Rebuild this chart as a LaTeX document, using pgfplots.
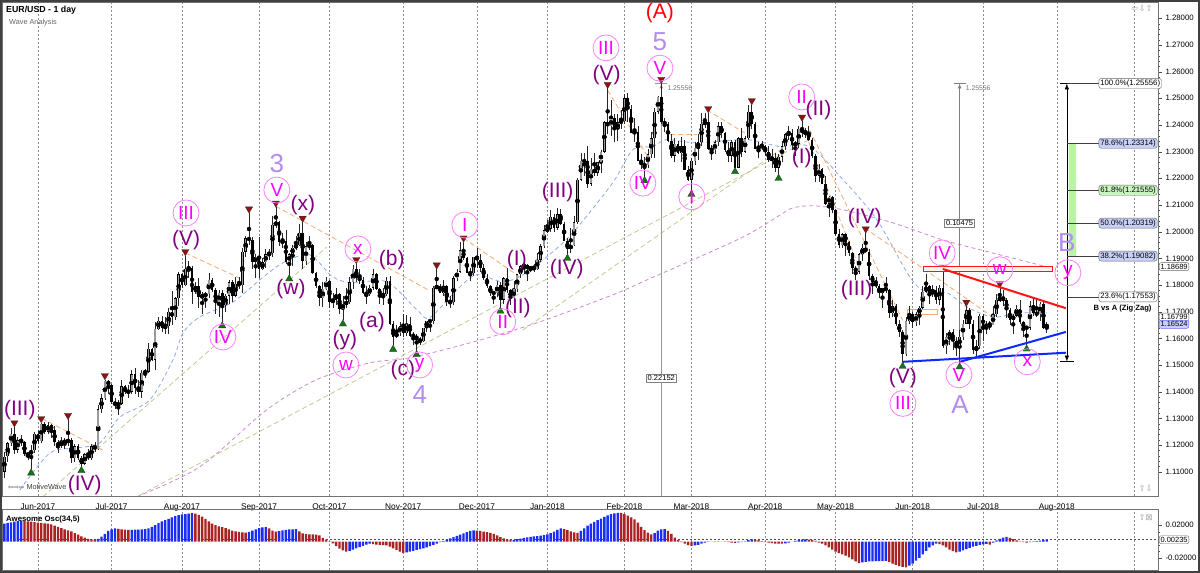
\documentclass[border=0pt]{standalone}
\usepackage{pgfplots}
\pgfplotsset{compat=1.18}
\usepackage{pgfplotstable}
\usepackage{fontspec}
\setmainfont{Liberation Sans}
\newfontfamily\dejavu{DejaVu Sans}
\usetikzlibrary{arrows.meta}

\definecolor{wpurple}{RGB}{128,0,128}
\definecolor{wmag}{RGB}{255,0,255}
\definecolor{wlav}{RGB}{180,140,240}
\definecolor{mkred}{RGB}{150,15,15}
\definecolor{mkgreen}{RGB}{15,120,15}
\definecolor{tlred}{RGB}{255,20,20}
\definecolor{tlblue}{RGB}{15,40,255}
\definecolor{mablue}{RGB}{140,170,235}
\definecolor{mapurple}{RGB}{205,140,210}
\definecolor{olive2}{RGB}{200,200,150}
\definecolor{orange2}{RGB}{248,170,115}
\definecolor{aoblue}{RGB}{25,45,245}
\definecolor{aored}{RGB}{170,35,35}
\definecolor{fibblue}{RGB}{200,208,248}
\definecolor{fibgreen}{RGB}{200,245,190}
\definecolor{fibbar}{RGB}{185,245,165}

\pgfplotstableread{
x o h l c
-10 1.1100 1.1173 1.1077 1.1157
-9 1.1157 1.1212 1.1135 1.1207
-8 1.1207 1.1262 1.1195 1.1242
-7 1.1242 1.1268 1.1165 1.1183
-6 1.1183 1.1229 1.1170 1.1218
-5 1.1218 1.1237 1.1195 1.1210
-4 1.1210 1.1215 1.1160 1.1165
-3 1.1165 1.1175 1.1145 1.1165
-2 1.1165 1.1200 1.1110 1.1180
-1 1.1180 1.1250 1.1170 1.1243
0 1.1243 1.1257 1.1205 1.1215
1 1.1215 1.1284 1.1208 1.1280
2 1.1280 1.1285 1.1240 1.1250
3 1.1250 1.1285 1.1240 1.1275
4 1.1275 1.1280 1.1225 1.1255
5 1.1255 1.1270 1.1195 1.1210
6 1.1210 1.1220 1.1170 1.1195
7 1.1195 1.1230 1.1190 1.1215
8 1.1215 1.1225 1.1185 1.1210
9 1.1210 1.1296 1.1195 1.1220
10 1.1220 1.1225 1.1131 1.1150
11 1.1150 1.1205 1.1135 1.1195
12 1.1195 1.1205 1.1145 1.1150
13 1.1150 1.1160 1.1119 1.1130
14 1.1130 1.1170 1.1125 1.1165
15 1.1165 1.1185 1.1145 1.1150
16 1.1150 1.1205 1.1145 1.1195
17 1.1195 1.1210 1.1175 1.1185
18 1.1185 1.1350 1.1180 1.1335
19 1.1335 1.1390 1.1320 1.1375
20 1.1375 1.1445 1.1370 1.1440
21 1.1440 1.1445 1.1390 1.1425
22 1.1425 1.1430 1.1355 1.1360
23 1.1360 1.1375 1.1335 1.1350
24 1.1350 1.1370 1.1312 1.1355
25 1.1355 1.1445 1.1350 1.1420
26 1.1420 1.1425 1.1390 1.1400
27 1.1400 1.1425 1.1375 1.1400
28 1.1400 1.1480 1.1390 1.1465
29 1.1465 1.1490 1.1390 1.1415
30 1.1415 1.1445 1.1380 1.1400
31 1.1400 1.1480 1.1375 1.1470
32 1.1470 1.1485 1.1450 1.1475
33 1.1475 1.1583 1.1470 1.1560
34 1.1560 1.1565 1.1515 1.1520
35 1.1520 1.1660 1.1480 1.1635
36 1.1635 1.1680 1.1630 1.1665
37 1.1665 1.1685 1.1625 1.1640
38 1.1640 1.1680 1.1615 1.1645
39 1.1645 1.1715 1.1615 1.1700
40 1.1700 1.1777 1.1650 1.1680
41 1.1680 1.1755 1.1670 1.1750
42 1.1750 1.1848 1.1720 1.1840
43 1.1840 1.1845 1.1790 1.1800
44 1.1800 1.1910 1.1795 1.1860
45 1.1860 1.1890 1.1825 1.1865
46 1.1865 1.1870 1.1730 1.1775
47 1.1775 1.1810 1.1765 1.1795
48 1.1795 1.1825 1.1715 1.1755
49 1.1755 1.1775 1.1690 1.1760
50 1.1760 1.1775 1.1715 1.1765
51 1.1765 1.1845 1.1750 1.1820
52 1.1820 1.1825 1.1775 1.1780
53 1.1780 1.1790 1.1690 1.1735
54 1.1735 1.1780 1.1680 1.1770
55 1.1770 1.1780 1.1662 1.1725
56 1.1725 1.1765 1.1700 1.1760
57 1.1760 1.1820 1.1730 1.1810
58 1.1810 1.1820 1.1735 1.1760
59 1.1760 1.1830 1.1755 1.1805
60 1.1805 1.1830 1.1785 1.1800
61 1.1800 1.1940 1.1770 1.1925
62 1.1925 1.1985 1.1905 1.1975
63 1.1975 1.2070 1.1950 1.1970
64 1.1970 1.1980 1.1860 1.1885
65 1.1885 1.1915 1.1825 1.1905
66 1.1905 1.1980 1.1825 1.1860
67 1.1860 1.1900 1.1855 1.1885
68 1.1885 1.1935 1.1865 1.1915
69 1.1915 1.1935 1.1895 1.1920
70 1.1920 1.2060 1.1905 1.2025
71 1.2025 1.2092 1.2015 1.2035
72 1.2035 1.2040 1.1945 1.1960
73 1.1960 1.1995 1.1940 1.1965
74 1.1965 1.2005 1.1880 1.1885
75 1.1885 1.1920 1.1838 1.1915
76 1.1915 1.1950 1.1870 1.1940
77 1.1940 1.1985 1.1930 1.1950
78 1.1950 1.2030 1.1945 1.1995
79 1.1995 1.2035 1.1860 1.1890
80 1.1890 1.1960 1.1875 1.1945
81 1.1945 1.1985 1.1930 1.1950
82 1.1950 1.1955 1.1840 1.1845
83 1.1845 1.1850 1.1790 1.1795
84 1.1795 1.1800 1.1720 1.1750
85 1.1750 1.1810 1.1717 1.1785
86 1.1785 1.1830 1.1780 1.1815
87 1.1815 1.1820 1.1715 1.1735
88 1.1735 1.1770 1.1715 1.1745
89 1.1745 1.1790 1.1725 1.1765
90 1.1765 1.1770 1.1690 1.1710
91 1.1710 1.1760 1.1669 1.1730
92 1.1730 1.1790 1.1715 1.1735
93 1.1735 1.1830 1.1730 1.1810
94 1.1810 1.1875 1.1785 1.1860
95 1.1860 1.1880 1.1810 1.1825
96 1.1825 1.1860 1.1805 1.1820
97 1.1820 1.1830 1.1765 1.1770
98 1.1770 1.1795 1.1730 1.1765
99 1.1765 1.1800 1.1760 1.1790
100 1.1790 1.1860 1.1780 1.1840
101 1.1840 1.1845 1.1780 1.1785
102 1.1785 1.1790 1.1730 1.1760
103 1.1760 1.1790 1.1725 1.1765
104 1.1765 1.1830 1.1760 1.1815
105 1.1815 1.1835 1.1650 1.1655
106 1.1655 1.1665 1.1574 1.1605
107 1.1605 1.1650 1.1600 1.1620
108 1.1620 1.1660 1.1610 1.1645
109 1.1645 1.1690 1.1605 1.1620
110 1.1620 1.1688 1.1610 1.1655
111 1.1655 1.1680 1.1605 1.1610
112 1.1610 1.1625 1.1575 1.1610
113 1.1610 1.1615 1.1554 1.1595
114 1.1595 1.1605 1.1575 1.1590
115 1.1590 1.1640 1.1585 1.1640
116 1.1640 1.1665 1.1625 1.1665
117 1.1665 1.1670 1.1625 1.1665
118 1.1665 1.1795 1.1655 1.1790
119 1.1790 1.1860 1.1785 1.1795
120 1.1795 1.1805 1.1770 1.1770
121 1.1770 1.1820 1.1760 1.1795
122 1.1795 1.1800 1.1720 1.1735
123 1.1735 1.1760 1.1715 1.1735
124 1.1735 1.1835 1.1725 1.1825
125 1.1825 1.1860 1.1815 1.1850
126 1.1850 1.1960 1.1845 1.1930
127 1.1930 1.1961 1.1895 1.1900
128 1.1900 1.1905 1.1845 1.1845
129 1.1845 1.1865 1.1815 1.1845
130 1.1845 1.1905 1.1835 1.1905
131 1.1905 1.1940 1.1865 1.1895
132 1.1895 1.1915 1.1850 1.1865
133 1.1865 1.1880 1.1820 1.1825
134 1.1825 1.1840 1.1790 1.1795
135 1.1795 1.1800 1.1760 1.1770
136 1.1770 1.1775 1.1730 1.1770
137 1.1770 1.1815 1.1755 1.1800
138 1.1800 1.1810 1.1717 1.1745
139 1.1745 1.1830 1.1730 1.1825
140 1.1825 1.1862 1.1770 1.1780
141 1.1780 1.1785 1.1725 1.1750
142 1.1750 1.1815 1.1745 1.1785
143 1.1785 1.1840 1.1775 1.1840
144 1.1840 1.1875 1.1825 1.1870
145 1.1870 1.1890 1.1840 1.1875
146 1.1875 1.1880 1.1815 1.1860
147 1.1860 1.1870 1.1850 1.1865
148 1.1865 1.1880 1.1850 1.1860
149 1.1860 1.1920 1.1855 1.1895
150 1.1895 1.1955 1.1885 1.1945
151 1.1945 1.2025 1.1940 1.2005
152 1.2005 1.2045 1.1995 1.2010
153 1.2010 1.2080 1.2000 1.2055
154 1.2055 1.2065 1.2000 1.2015
155 1.2015 1.2088 1.2005 1.2065
156 1.2065 1.2085 1.2025 1.2030
157 1.2030 1.2035 1.1965 1.1965
158 1.1965 1.1975 1.1915 1.1935
159 1.1935 1.2015 1.1920 1.1950
160 1.1950 1.2060 1.1945 1.2035
161 1.2035 1.2200 1.2030 1.2195
162 1.2195 1.2296 1.2190 1.2265
163 1.2265 1.2295 1.2210 1.2265
164 1.2265 1.2320 1.2165 1.2180
165 1.2180 1.2275 1.2170 1.2235
166 1.2235 1.2295 1.2210 1.2220
167 1.2220 1.2260 1.2210 1.2260
168 1.2260 1.2305 1.2220 1.2300
169 1.2300 1.2415 1.2295 1.2410
170 1.2410 1.2537 1.2365 1.2395
171 1.2395 1.2495 1.2360 1.2425
172 1.2425 1.2440 1.2335 1.2385
173 1.2385 1.2440 1.2340 1.2410
174 1.2410 1.2455 1.2385 1.2415
175 1.2415 1.2515 1.2405 1.2500
176 1.2500 1.2520 1.2410 1.2460
177 1.2460 1.2475 1.2370 1.2370
178 1.2370 1.2425 1.2335 1.2375
179 1.2375 1.2395 1.2265 1.2265
180 1.2265 1.2290 1.2235 1.2250
181 1.2250 1.2280 1.2206 1.2250
182 1.2250 1.2310 1.2240 1.2290
183 1.2290 1.2375 1.2275 1.2350
184 1.2350 1.2465 1.2275 1.2450
185 1.2450 1.2510 1.2440 1.2505
186 1.2505 1.2556 1.2405 1.2410
187 1.2410 1.2425 1.2375 1.2405
188 1.2405 1.2410 1.2335 1.2340
189 1.2340 1.2365 1.2275 1.2285
190 1.2285 1.2350 1.2260 1.2330
191 1.2330 1.2340 1.2290 1.2295
192 1.2295 1.2355 1.2260 1.2320
193 1.2320 1.2345 1.2230 1.2230
194 1.2230 1.2245 1.2190 1.2195
195 1.2195 1.2275 1.2155 1.2265
196 1.2265 1.2335 1.2250 1.2315
197 1.2315 1.2365 1.2270 1.2335
198 1.2335 1.2445 1.2320 1.2405
199 1.2405 1.2445 1.2390 1.2410
200 1.2410 1.2446 1.2305 1.2310
201 1.2310 1.2325 1.2270 1.2305
202 1.2305 1.2345 1.2290 1.2335
203 1.2335 1.2410 1.2320 1.2395
204 1.2395 1.2410 1.2350 1.2370
205 1.2370 1.2375 1.2300 1.2305
206 1.2305 1.2335 1.2260 1.2285
207 1.2285 1.2345 1.2260 1.2335
208 1.2335 1.2345 1.2240 1.2240
209 1.2240 1.2355 1.2240 1.2350
210 1.2350 1.2390 1.2280 1.2300
211 1.2300 1.2360 1.2295 1.2350
212 1.2350 1.2475 1.2345 1.2450
213 1.2450 1.2476 1.2385 1.2405
214 1.2405 1.2410 1.2310 1.2310
215 1.2310 1.2335 1.2275 1.2320
216 1.2320 1.2340 1.2305 1.2320
217 1.2320 1.2325 1.2285 1.2300
218 1.2300 1.2320 1.2260 1.2270
219 1.2270 1.2310 1.2240 1.2275
220 1.2275 1.2295 1.2225 1.2240
221 1.2240 1.2290 1.2215 1.2280
222 1.2280 1.2340 1.2260 1.2320
223 1.2320 1.2370 1.2305 1.2365
224 1.2365 1.2395 1.2345 1.2370
225 1.2370 1.2385 1.2305 1.2325
226 1.2325 1.2340 1.2285 1.2330
227 1.2330 1.2395 1.2315 1.2385
228 1.2385 1.2414 1.2355 1.2370
229 1.2370 1.2390 1.2350 1.2375
230 1.2375 1.2395 1.2340 1.2345
231 1.2345 1.2350 1.2275 1.2285
232 1.2285 1.2290 1.2185 1.2210
233 1.2210 1.2255 1.2185 1.2235
234 1.2235 1.2240 1.2180 1.2180
235 1.2180 1.2210 1.2100 1.2105
236 1.2105 1.2135 1.2055 1.2130
237 1.2130 1.2135 1.2070 1.2080
238 1.2080 1.2085 1.1985 1.1990
239 1.1990 1.2010 1.1940 1.1950
240 1.1950 1.1995 1.1940 1.1990
241 1.1990 1.1995 1.1910 1.1960
242 1.1960 1.1965 1.1910 1.1920
243 1.1920 1.1925 1.1840 1.1865
244 1.1865 1.1870 1.1820 1.1850
245 1.1850 1.1920 1.1840 1.1915
246 1.1915 1.1955 1.1890 1.1940
247 1.1940 1.1995 1.1920 1.1925
248 1.1925 1.1935 1.1820 1.1835
249 1.1835 1.1840 1.1765 1.1810
250 1.1810 1.1830 1.1790 1.1795
251 1.1795 1.1805 1.1750 1.1770
252 1.1770 1.1790 1.1715 1.1790
253 1.1790 1.1830 1.1770 1.1780
254 1.1780 1.1785 1.1675 1.1695
255 1.1695 1.1745 1.1680 1.1720
256 1.1720 1.1730 1.1645 1.1655
257 1.1655 1.1670 1.1605 1.1625
258 1.1625 1.1630 1.1510 1.1540
259 1.1540 1.1680 1.1535 1.1665
260 1.1665 1.1720 1.1655 1.1690
261 1.1690 1.1700 1.1640 1.1660
262 1.1660 1.1700 1.1645 1.1690
263 1.1690 1.1720 1.1650 1.1715
264 1.1715 1.1795 1.1710 1.1775
265 1.1775 1.1840 1.1770 1.1795
266 1.1795 1.1800 1.1730 1.1765
267 1.1765 1.1800 1.1755 1.1780
268 1.1780 1.1795 1.1730 1.1745
269 1.1745 1.1800 1.1725 1.1790
270 1.1790 1.1852 1.1565 1.1570
271 1.1570 1.1620 1.1540 1.1605
272 1.1605 1.1630 1.1575 1.1625
273 1.1625 1.1635 1.1555 1.1590
274 1.1590 1.1605 1.1535 1.1570
275 1.1570 1.1630 1.1508 1.1605
276 1.1605 1.1670 1.1595 1.1655
277 1.1655 1.1720 1.1655 1.1705
278 1.1705 1.1715 1.1635 1.1655
279 1.1655 1.1670 1.1540 1.1555
280 1.1555 1.1595 1.1525 1.1570
281 1.1570 1.1690 1.1560 1.1685
282 1.1685 1.1690 1.1590 1.1640
283 1.1640 1.1665 1.1615 1.1655
284 1.1655 1.1665 1.1630 1.1650
285 1.1650 1.1720 1.1650 1.1690
286 1.1690 1.1765 1.1680 1.1745
287 1.1745 1.1790 1.1735 1.1750
288 1.1750 1.1780 1.1720 1.1745
289 1.1745 1.1750 1.1675 1.1705
290 1.1705 1.1715 1.1650 1.1670
291 1.1670 1.1690 1.1615 1.1685
292 1.1685 1.1725 1.1680 1.1710
293 1.1710 1.1745 1.1655 1.1660
294 1.1660 1.1665 1.1605 1.1640
295 1.1640 1.1645 1.1575 1.1640
296 1.1640 1.1740 1.1630 1.1720
297 1.1720 1.1750 1.1685 1.1695
298 1.1695 1.1745 1.1680 1.1690
299 1.1690 1.1735 1.1665 1.1730
300 1.1730 1.1735 1.1635 1.1640
301 1.1640 1.1660 1.1620 1.1652
}\ohlc

\pgfplotstableread{
x v c
-10 22.0 1
-9 22.8 1
-8 23.5 1
-7 24.2 1
-6 24.8 1
-5 25.2 1
-4 25.0 0
-3 24.7 0
-2 24.2 0
-1 23.8 0
0 23.2 0
1 22.8 0
2 22.3 0
3 22.0 0
4 21.0 0
5 19.5 0
6 18.0 0
7 16.5 0
8 15.0 0
9 13.8 0
10 12.4 0
11 10.5 0
12 8.5 0
13 6.5 0
14 4.8 0
15 3.4 0
16 2.8 0
17 2.4 0
18 3.5 1
19 6.0 1
20 9.5 1
21 13.0 1
22 15.0 1
23 16.0 1
24 15.6 0
25 15.0 0
26 14.5 0
27 14.2 0
28 14.3 1
29 14.5 1
30 14.6 1
31 14.8 1
32 15.2 1
33 16.0 1
34 18.0 1
35 20.0 1
36 22.5 1
37 24.5 1
38 26.0 1
39 27.5 1
40 29.5 1
41 31.0 1
42 32.2 1
43 33.0 1
44 33.5 1
45 34.0 1
46 34.5 1
47 34.0 0
48 32.5 0
49 30.5 0
50 27.5 0
51 24.5 0
52 22.0 0
53 20.0 0
54 18.5 0
55 17.5 0
56 16.5 0
57 15.0 0
58 13.5 0
59 12.5 0
60 11.8 0
61 11.2 0
62 11.0 0
63 12.0 1
64 13.5 1
65 15.0 1
66 16.5 1
67 17.3 1
68 17.6 1
69 16.0 0
70 13.5 0
71 12.2 0
72 12.8 1
73 13.6 1
74 14.3 1
75 14.8 1
76 15.0 1
77 15.1 1
78 12.5 0
79 10.0 0
80 9.2 0
81 9.0 0
82 8.8 0
83 8.6 0
84 7.5 0
85 4.5 0
86 2.5 0
87 0.5 0
88 -2.0 0
89 -5.5 0
90 -8.5 0
91 -10.5 0
92 -12.0 0
93 -11.0 1
94 -9.5 1
95 -8.0 1
96 -6.5 1
97 -5.0 1
98 -3.5 1
99 -2.5 1
100 -3.0 0
101 -3.5 0
102 -4.0 0
103 -4.2 0
104 -4.6 0
105 -6.0 0
106 -8.0 0
107 -10.0 0
108 -12.0 0
109 -13.6 0
110 -13.0 1
111 -12.0 1
112 -11.0 1
113 -10.0 1
114 -9.0 1
115 -8.0 1
116 -7.0 1
117 -5.5 1
118 -4.0 1
119 -2.5 1
120 -0.5 1
121 0.8 1
122 2.5 1
123 4.0 1
124 5.5 1
125 7.0 1
126 8.5 1
127 10.0 1
128 11.5 1
129 13.0 1
130 13.7 1
131 13.5 0
132 13.0 0
133 12.3 0
134 11.5 0
135 10.8 0
136 9.5 0
137 7.5 0
138 5.5 0
139 4.0 0
140 2.8 0
141 1.9 0
142 2.3 1
143 3.0 1
144 3.8 1
145 4.6 1
146 5.2 1
147 5.8 1
148 6.3 1
149 6.8 1
150 7.3 1
151 7.8 1
152 8.8 1
153 10.5 1
154 12.3 1
155 14.2 1
156 16.0 1
157 15.2 0
158 14.0 0
159 12.5 0
160 11.2 0
161 10.8 0
162 13.0 1
163 16.0 1
164 19.5 1
165 22.0 1
166 24.0 1
167 26.2 1
168 28.0 1
169 30.0 1
170 32.0 1
171 33.5 1
172 34.3 1
173 35.0 1
174 34.5 0
175 33.5 0
176 31.5 0
177 29.5 0
178 27.0 0
179 23.0 0
180 18.0 0
181 14.0 0
182 11.0 0
183 9.0 0
184 10.5 1
185 13.5 1
186 15.0 1
187 15.3 1
188 13.0 0
189 9.5 0
190 5.0 0
191 2.0 0
192 -0.5 0
193 -2.5 0
194 -4.2 0
195 -5.2 0
196 -4.6 1
197 -3.8 1
198 -2.5 1
199 -1.0 1
200 -0.3 1
201 0.0 1
202 0.3 1
203 0.4 1
204 0.2 0
205 -0.2 0
206 -0.6 0
207 -1.0 0
208 -1.3 0
209 -0.8 1
210 -0.2 1
211 0.5 1
212 1.8 1
213 2.8 1
214 2.4 0
215 1.8 0
216 0.8 0
217 -0.4 0
218 -1.2 0
219 -1.8 0
220 -2.2 0
221 -2.4 0
222 -2.5 0
223 -2.0 1
224 -1.0 1
225 0.0 1
226 1.0 1
227 1.8 1
228 2.5 1
229 2.8 1
230 2.6 0
231 2.2 0
232 1.0 0
233 -1.0 0
234 -2.5 0
235 -4.5 0
236 -7.0 0
237 -9.5 0
238 -12.0 0
239 -14.0 0
240 -15.5 0
241 -17.0 0
242 -19.0 0
243 -21.5 0
244 -24.0 0
245 -26.0 0
246 -25.0 1
247 -24.4 1
248 -24.0 1
249 -23.8 1
250 -23.6 1
251 -23.5 1
252 -23.4 1
253 -23.3 1
254 -24.5 0
255 -26.5 0
256 -28.0 0
257 -29.5 0
258 -30.5 0
259 -31.0 0
260 -29.0 1
261 -26.5 1
262 -23.0 1
263 -19.5 1
264 -15.5 1
265 -11.0 1
266 -7.0 1
267 -4.5 1
268 -2.5 1
269 -3.0 0
270 -4.5 0
271 -7.0 0
272 -9.5 0
273 -11.5 0
274 -12.8 0
275 -12.0 1
276 -10.5 1
277 -9.0 1
278 -7.5 1
279 -6.0 1
280 -5.0 1
281 -4.0 1
282 -3.2 1
283 -2.6 1
284 -3.5 0
285 -1.0 1
286 1.5 1
287 3.5 1
288 5.0 1
289 5.9 1
290 4.5 0
291 3.0 0
292 1.5 0
293 0.5 0
294 -0.5 0
295 -1.0 0
296 -0.5 1
297 0.3 1
298 0.8 1
299 1.3 1
300 2.0 1
301 2.35 1
}\ao

\pgfplotstableread{
x y
-5.4 1.1031
3.6 1.1170
11.6 1.1189
18.5 1.1208
24.5 1.1305
33.4 1.1369
40.3 1.1519
43.3 1.1620
48.3 1.1680
58.2 1.1736
66.2 1.1819
73.1 1.1883
81.1 1.1913
88.0 1.1830
94.0 1.1808
104.1 1.1812
113.1 1.1707
116.9 1.1677
125.0 1.1782
131.0 1.1838
138.7 1.1812
144.7 1.1838
151.9 1.1906
159.6 1.1996
171.5 1.2183
177.5 1.2307
183.5 1.2319
187.6 1.2345
196.6 1.2333
211.5 1.2345
221.4 1.2319
230.3 1.2319
240.2 1.2195
250.3 1.2045
260.1 1.1831
265.2 1.1771
271.2 1.1771
277.1 1.1718
284.9 1.1680
293.0 1.1695
301.0 1.1695
}\maA

\pgfplotstableread{
x y
29.5 1.1006
48.3 1.1118
68.3 1.1332
83.2 1.1445
99.0 1.1508
111.0 1.1527
128.9 1.1583
148.9 1.1658
171.5 1.1763
181.7 1.1819
196.6 1.1901
211.5 1.1987
221.4 1.2062
225.2 1.2089
231.2 1.2097
240.2 1.2082
255.1 1.2033
270.0 1.1969
284.9 1.1920
301.0 1.1868
}\maB

\tikzset{
 wp/.style={text=wpurple, font=\fontsize{21}{21}\selectfont, inner sep=0pt},
 wc/.style={circle, draw=wmag!50, line width=0.8pt, text=wmag, font=\fontsize{19}{19}\selectfont, minimum size=26pt, inner sep=0pt},
 wl/.style={text=wlav, font=\fontsize{26}{26}\selectfont, inner sep=0pt},
 wr/.style={text=red, font=\fontsize{21}{21}\selectfont, inner sep=0pt},
 vbox/.style={draw=black!60, fill=white, rounded corners=2pt, font=\fontsize{7.5}{7.5}\selectfont, inner sep=1.3pt, anchor=west},
 fbox/.style={draw=black!60, rounded corners=2.5pt, font=\fontsize{7.8}{7.8}\selectfont, inner sep=1.4pt, anchor=west},
 mbox/.style={draw=black!50, fill=white, font=\fontsize{7.5}{7.5}\selectfont, inner sep=1.5pt},
}

\begin{document}
\begin{tikzpicture}[x=1pt,y=1pt]
\useasboundingbox (0,0) rectangle (1200,573);
\fill[white] (0,0) rectangle (1200,573);

\begin{axis}[
 at={(2pt,77pt)}, anchor=south west, scale only axis,
 width=1156pt, height=494pt,
 xmin=-10.7, xmax=334.2, ymin=1.10088, ymax=1.28611,
 clip mode=individual,
 axis line style={draw=black!55},
 /pgf/number format/assume math mode=true,
 xtick={0,22,43,66,87,109,131,152,175,195,217,238,261,282,304,327},
 xticklabels={Jun-2017,Jul-2017,Aug-2017,Sep-2017,Oct-2017,Nov-2017,Dec-2017,Jan-2018,Feb-2018,Mar-2018,Apr-2018,May-2018,Jun-2018,Jul-2018,Aug-2018,{}},
 x tick label style={font=\fontsize{8.3}{8.3}\selectfont},
 xmajorgrids, grid style={black!45, dash pattern=on 2pt off 2pt, line width=0.6pt},
 xtick style={draw=none},
 ytick={1.11,1.12,1.13,1.14,1.15,1.16,1.17,1.18,1.19,1.20,1.21,1.22,1.23,1.24,1.25,1.26,1.27,1.28},
 yticklabels={1.11000,1.12000,1.13000,1.14000,1.15000,1.16000,1.17000,1.18000,1.19000,1.20000,1.21000,1.22000,1.23000,1.24000,1.25000,1.26000,1.27000,1.28000},
 ytick pos=right, yticklabel pos=right,
 y tick label style={font=\fontsize{7.8}{7.8}\selectfont},
 ytick style={black!70}, tick align=outside, major tick length=4pt,
 minor y tick num=4, minor tick length=2pt,
]
% moving averages and channel lines
\addplot[mapurple, line width=0.8pt, dash pattern=on 4pt off 3pt, smooth] table[x=x,y=y] {\maB};
\addplot[mablue, line width=0.8pt, dash pattern=on 4pt off 3pt, smooth] table[x=x,y=y] {\maA};
\addplot[olive2, line width=0.8pt, dash pattern=on 5pt off 3pt] coordinates {(1.5,1.1006) (86.2,1.1942)};
\addplot[olive2, line width=0.8pt, dash pattern=on 5pt off 3pt] coordinates {(30.4,1.1012) (230.3,1.2346)};
\addplot[olive2, line width=0.8pt, dash pattern=on 5pt off 3pt] coordinates {(144.7,1.1631) (221.4,1.2306)};
\addplot[orange2, line width=0.8pt, dash pattern=on 5pt off 3pt] coordinates {(1.2,1.1300) (19.4,1.1181)};
\addplot[orange2, line width=0.8pt, dash pattern=on 5pt off 3pt] coordinates {(44,1.1920) (60,1.1827)};
\addplot[orange2, line width=0.8pt, dash pattern=on 5pt off 3pt] coordinates {(71,1.2095) (117,1.1778)};
\addplot[orange2, line width=0.8pt, dash pattern=on 5pt off 3pt] coordinates {(127,1.1976) (143.8,1.1830)};
\addplot[orange2, line width=0.8pt, dash pattern=on 5pt off 3pt] coordinates {(170,1.2530) (182,1.2280)};
\addplot[orange2, line width=0.8pt, dash pattern=on 5pt off 3pt] coordinates {(188.5,1.2363) (196.6,1.2363)};
\addplot[orange2, line width=0.8pt, dash pattern=on 5pt off 3pt] coordinates {(199.6,1.2456) (210.9,1.2370)};
\addplot[orange2, line width=0.8pt, dash pattern=on 5pt off 3pt] coordinates {(230.3,1.2381) (258,1.1668)};
\addplot[orange2, line width=0.8pt, dash pattern=on 5pt off 3pt] coordinates {(230,1.2336) (245,1.1867)};
\addplot[orange2, line width=0.8pt, dash pattern=on 5pt off 3pt] coordinates {(246.7,1.2014) (284.9,1.1680)};
\addplot[orange2, line width=0.8pt] coordinates {(259.5,1.1710) (268.5,1.1710) (268.5,1.1690) (259.5,1.1690) (259.5,1.1710)};

% measurement lines
\addplot[black!40, line width=1pt, -{Latex[length=5pt,width=4pt]}] coordinates {(186,1.10088) (186,1.25556)};
\addplot[black!40, line width=1pt] coordinates {(184.2,1.25556) (187.8,1.25556)};
\addplot[black!50, line width=0.8pt, -{Latex[length=5pt,width=4pt]}] coordinates {(275,1.1508) (275,1.25556)};
\addplot[black!50, line width=0.8pt] coordinates {(273.2,1.25556) (276.8,1.25556)};
\node[mbox] at (axis cs:186,1.1451) {0.22152};
\node[mbox] at (axis cs:275,1.2032) {0.10475};
\node[anchor=west, text=black!55, font=\fontsize{6.8}{6.8}\selectfont, inner sep=1pt] at (axis cs:187.5,1.2538) {1.25556};
\node[anchor=west, text=black!55, font=\fontsize{6.8}{6.8}\selectfont, inner sep=1pt] at (axis cs:276.5,1.2538) {1.25556};

% candles: wicks, bodies, hollow up bodies
\addplot[only marks, mark=none, forget plot, error bars/.cd, y dir=both, y explicit, error mark=none, error bar style={draw=black!85, solid, line width=0.6pt}]
 table[x=x, y expr={(\thisrow{h}+\thisrow{l})/2}, y error expr={(\thisrow{h}-\thisrow{l})/2}] {\ohlc};
\addplot[only marks, mark=none, forget plot, error bars/.cd, y dir=both, y explicit, error mark=none, error bar style={draw=black, solid, line width=2.6pt}]
 table[x=x, y expr={(\thisrow{o}+\thisrow{c})/2}, y error expr={max(abs(\thisrow{c}-\thisrow{o})/2,0.00015)}] {\ohlc};
\addplot[only marks, mark=none, forget plot, restrict expr to domain={\thisrow{c}-\thisrow{o}}{0.0004:1},
 error bars/.cd, y dir=both, y explicit, error mark=none, error bar style={draw=black!40, solid, line width=1.6pt}]
 table[x=x, y expr={(\thisrow{o}+\thisrow{c})/2}, y error expr={max((\thisrow{c}-\thisrow{o})/2-0.00018,0.00002)}] {\ohlc};

% pivot markers
\addplot[only marks, mark=triangle*, mark size=4.2pt, mark options={rotate=180, fill=mkred, draw=black!80, line width=0.3pt}] coordinates {
(-7,1.1283) (1,1.1299) (9,1.1311) (20,1.1460) (44,1.1925) (63,1.2085) (71,1.2107) (79,1.2050) (95,1.1895) (119,1.1875) (127,1.1976) (170,1.2552) (186,1.2571) (200,1.2461) (213,1.2491) (228,1.2429) (247,1.2010) (270,1.1867) (277,1.1735) (287,1.1805)};
\addplot[only marks, mark=triangle*, mark size=4.2pt, mark options={fill=mkgreen, draw=black!80, line width=0.3pt}] coordinates {
(-2,1.1095) (13,1.1104) (55,1.1647) (75,1.1823) (91,1.1654) (106,1.1559) (113,1.1539) (138,1.1702) (158,1.1900) (181,1.2191) (195,1.2140) (208,1.2225) (221,1.2200) (258,1.1495) (275,1.1493) (295,1.1560)};

% trend lines
\addplot[draw=tlred, line width=1.2pt, fill=red!6] coordinates {(264.3,1.1850) (302.8,1.1850) (302.8,1.1870) (264.3,1.1870) (264.3,1.1850)};
\addplot[tlred, line width=2pt] coordinates {(270,1.1860) (306.7,1.1713)};
\addplot[tlblue, line width=2pt] coordinates {(258.1,1.1512) (306.7,1.1546)};
\addplot[tlblue, line width=2pt] coordinates {(275.1,1.1512) (306.7,1.1624)};

% fibonacci tool
\addplot[fill=fibbar, draw=none] coordinates {(307.6,1.19082) (309.8,1.19082) (309.8,1.23314) (307.6,1.23314) (307.6,1.19082)};
\addplot[black, line width=0.7pt, {Latex[length=6pt,width=4.5pt]}-{Latex[length=6pt,width=4.5pt]}] coordinates {(307,1.1513) (307,1.25556)};
\addplot[black, line width=1pt] coordinates {(304.9,1.1513) (309.1,1.1513)};
\addplot[black, line width=1pt] coordinates {(304.9,1.25556) (309.1,1.25556)};
\addplot[black!75, line width=0.6pt] coordinates {(307,1.25556) (316.5,1.25556)};
\addplot[black!75, line width=0.6pt] coordinates {(307,1.23314) (316.5,1.23314)};
\addplot[black!75, line width=0.6pt] coordinates {(307,1.21555) (316.5,1.21555)};
\addplot[black!75, line width=0.6pt] coordinates {(307,1.20319) (316.5,1.20319)};
\addplot[black!75, line width=0.6pt] coordinates {(307,1.19082) (316.5,1.19082)};
\addplot[black!75, line width=0.6pt] coordinates {(307,1.17553) (316.5,1.17553)};
\node[fbox, fill=white] at (axis cs:316.5,1.25556) {100.0\%(1.25556)};
\node[fbox, fill=fibblue] at (axis cs:316.5,1.23314) {78.6\%(1.23314)};
\node[fbox, fill=fibgreen] at (axis cs:316.5,1.21555) {61.8\%(1.21555)};
\node[fbox, fill=fibblue] at (axis cs:316.5,1.20319) {50.0\%(1.20319)};
\node[fbox, fill=fibblue] at (axis cs:316.5,1.19082) {38.2\%(1.19082)};
\node[fbox, fill=white] at (axis cs:316.5,1.17553) {23.6\%(1.17553)};
\node[anchor=east, font=\bfseries\fontsize{7.6}{7.6}\selectfont, inner sep=0pt] at (axis cs:332.3,1.1710) {B vs A (Zig Zag)};

% value boxes on the price scale
\node[vbox, xshift=1pt] at (axis cs:334.2,1.18689) {1.18689};
\node[vbox, xshift=1pt] at (axis cs:334.2,1.16799) {1.16799};
\node[vbox, xshift=1pt, fill=fibblue, draw=blue!60] at (axis cs:334.2,1.16524) {1.16524};

% wave labels
\node[wp] at (axis cs:-5.4,1.1331) {(III)};
\node[wp] at (axis cs:14.0,1.1050) {(IV)};
\node[wc] at (axis cs:44.2,1.2070) {III};
\node[wp] at (axis cs:44.2,1.1969) {(V)};
\node[wc] at (axis cs:55.2,1.1605) {IV};
\node[wl] at (axis cs:71.3,1.2257) {3};
\node[wc] at (axis cs:71.3,1.2156) {V};
\node[wp] at (axis cs:79.1,1.2100) {(x)};
\node[wp] at (axis cs:75.5,1.1785) {(w)};
\node[wp] at (axis cs:91.6,1.1595) {(y)};
\node[wc] at (axis cs:91.9,1.1500) {w};
\node[wc] at (axis cs:95.5,1.1935) {x};
\node[wp] at (axis cs:105.6,1.1894) {(b)};
\node[wp] at (axis cs:99.7,1.1662) {(a)};
\node[wp] at (axis cs:108.9,1.1482) {(c)};
\node[wc] at (axis cs:113.9,1.1500) {y};
\node[wl] at (axis cs:114.0,1.1388) {4};
\node[wc] at (axis cs:127.4,1.2025) {I};
\node[wp] at (axis cs:142.9,1.1894) {(I)};
\node[wp] at (axis cs:143.2,1.1714) {(II)};
\node[wc] at (axis cs:138.7,1.1662) {II};
\node[wp] at (axis cs:155.1,1.2150) {(III)};
\node[wp] at (axis cs:157.8,1.1858) {(IV)};
\node[wc] at (axis cs:169.5,1.2689) {III};
\node[wp] at (axis cs:169.7,1.2587) {(V)};
\node[wr] at (axis cs:185.6,1.2820) {(A)};
\node[wl] at (axis cs:185.6,1.2711) {5};
\node[wc] at (axis cs:185.6,1.2613) {V};
\node[wc] at (axis cs:180.5,1.2182) {IV};
\node[wc] at (axis cs:195.1,1.2131) {I};
\node[wc] at (axis cs:227.9,1.2505) {II};
\node[wp] at (axis cs:232.9,1.2456) {(II)};
\node[wp] at (axis cs:227.9,1.2276) {(I)};
\node[wp] at (axis cs:246.7,1.2051) {(IV)};
\node[wp] at (axis cs:244.3,1.1781) {(III)};
\node[wp] at (axis cs:258.1,1.1452) {(V)};
\node[wc] at (axis cs:258.1,1.1356) {III};
\node[wc] at (axis cs:269.8,1.1920) {IV};
\node[wc] at (axis cs:274.8,1.1463) {V};
\node[wl] at (axis cs:275.1,1.1350) {A};
\node[wc] at (axis cs:287.0,1.1857) {w};
\node[wc] at (axis cs:295.2,1.1512) {x};
\node[wl] at (axis cs:307.0,1.1958) {B};
\node[wc] at (axis cs:307.3,1.1846) {y};
\end{axis}

\begin{axis}[
 at={(2pt,3pt)}, anchor=south west, scale only axis,
 width=1156pt, height=61pt,
 xmin=-10.7, xmax=334.2, ymin=-34.3, ymax=39.6,
 clip mode=individual,
 axis line style={draw=black!55},
 /pgf/number format/assume math mode=true,
 xtick={0,22,43,66,87,109,131,152,175,195,217,238,261,282,304,327},
 xticklabels={},
 xmajorgrids, grid style={black!45, dash pattern=on 2pt off 2pt, line width=0.6pt},
 xtick style={draw=none},
 ytick={-20,20}, yticklabels={-0.02000,0.02000},
 ytick pos=right, yticklabel pos=right,
 y tick label style={font=\fontsize{7.8}{7.8}\selectfont},
 ytick style={black!70}, tick align=outside, major tick length=4pt,
 minor y tick num=4, minor tick length=2pt,
]
\addplot[ybar, bar width=2.4pt, bar shift=0pt, fill=aoblue, draw=none, restrict expr to domain={\thisrow{c}}{0.5:1.5}] table[x=x, y=v] {\ao};
\addplot[ybar, bar width=2.4pt, bar shift=0pt, fill=aored, draw=none, restrict expr to domain={\thisrow{c}}{-0.5:0.5}] table[x=x, y=v] {\ao};
\addplot[black!70, line width=0.6pt, dash pattern=on 2pt off 2pt] coordinates {(-10.7,2.35) (334.2,2.35)};
\node[vbox, xshift=1pt] at (axis cs:334.2,2.35) {0.00235};
\end{axis}

% texts
\node[anchor=west, font=\bfseries\fontsize{8.8}{8.8}\selectfont, inner sep=0pt] at (6,563) {EUR/USD - 1 day};
\node[anchor=west, text=black!60, font=\fontsize{7.3}{7.3}\selectfont, inner sep=0pt] at (9,550) {Wave Analysis};
\node[anchor=west, font=\bfseries\fontsize{7.8}{7.8}\selectfont, inner sep=0pt] at (6,54) {Awesome Osc(34,5)};
\node[anchor=west, text=black!75, font=\fontsize{7.3}{7.3}\selectfont, inner sep=0pt] at (8,86) {{\dejavu\fontsize{6.5}{6.5}\selectfont ⇦⇨⇨} MotiveWave};
\node[anchor=east, text=black!35, font=\dejavu\fontsize{8.5}{8.5}\selectfont, inner sep=0pt] at (1153,565) {⇦⇩⇧};
\node[anchor=east, text=black!35, font=\dejavu\fontsize{8.5}{8.5}\selectfont, inner sep=0pt] at (1153,85) {⇧⇩};
\node[anchor=east, text=black!35, font=\dejavu\fontsize{8.5}{8.5}\selectfont, inner sep=0pt] at (1153,56) {⇧⊠};
\draw[black!75, line width=2pt] (1,1) rectangle (1199,572);
\end{tikzpicture}
\end{document}
